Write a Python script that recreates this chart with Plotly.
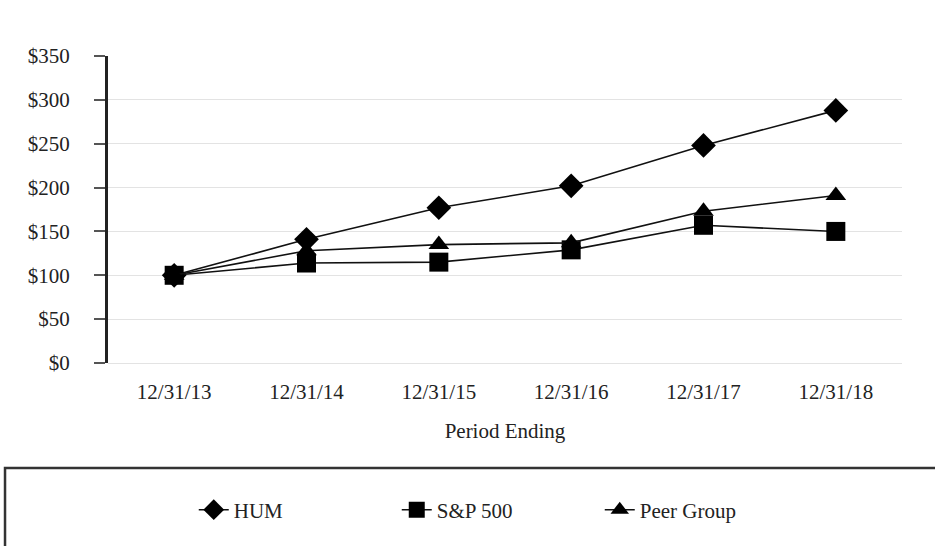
import plotly.graph_objects as go

periods = ["12/31/13", "12/31/14", "12/31/15", "12/31/16", "12/31/17", "12/31/18"]
hum = [100, 141, 177, 202, 248, 288]
sp500 = [100, 114, 115, 129, 157, 150]
peer = [100, 128, 135, 137, 173, 191]
y_ticks = [0, 50, 100, 150, 200, 250, 300, 350]
y_labels = ["$" + str(v) for v in y_ticks]

fig = go.Figure()
series = [
    ("HUM", hum, "diamond", 19),
    ("S&P 500", sp500, "square", 19),
    ("Peer Group", peer, "triangle-up", 18),
]
for name, vals, sym, sz in series:
    fig.add_trace(go.Scatter(
        x=periods, y=vals, name=name, mode="lines+markers",
        line=dict(color="#111111", width=1.6),
        marker=dict(symbol=sym, size=sz, color="#000000"),
    ))

font_family = "Liberation Serif, Times New Roman, serif"
fig.update_layout(
    width=935, height=546,
    margin=dict(l=108, r=33, t=56, b=183),
    paper_bgcolor="white", plot_bgcolor="white",
    font=dict(family=font_family, size=21, color="#222222"),
    showlegend=True,
    legend=dict(
        orientation="h", x=0.108, xanchor="left", y=-0.479, yanchor="middle",
        entrywidth=158, entrywidthmode="pixels",
        font=dict(family=font_family, size=21, color="#222222"),
        bgcolor="rgba(0,0,0,0)",
    ),
    xaxis=dict(
        type="category", range=[-0.5, 5.5], showgrid=False, showline=False,
        ticks="", tickfont=dict(size=21), zeroline=False,
        ticklabelstandoff=14,
        title=dict(text="Period Ending", font=dict(size=21), standoff=20),
    ),
    yaxis=dict(
        range=[0, 350], tickvals=y_ticks, ticktext=y_labels,
        showgrid=True, gridcolor="#e3e3e3", gridwidth=1.3,
        showline=True, linecolor="#222222", linewidth=3,
        ticks="outside", ticklen=11, tickcolor="#555555", tickwidth=1.5,
        zeroline=True, zerolinecolor="#e3e3e3", zerolinewidth=1.3,
        tickfont=dict(size=21),
        ticklabelstandoff=20,
    ),
    shapes=[dict(
        type="rect", xref="paper", yref="paper",
        x0=-0.1297, x1=1.06, y0=-0.342, y1=-0.62,
        line=dict(color="#333333", width=2.5), fillcolor="rgba(0,0,0,0)",
    )],
)

fig.write_html("out.html", config={"displayModeBar": False},
               post_script="document.body.style.margin='0';")
